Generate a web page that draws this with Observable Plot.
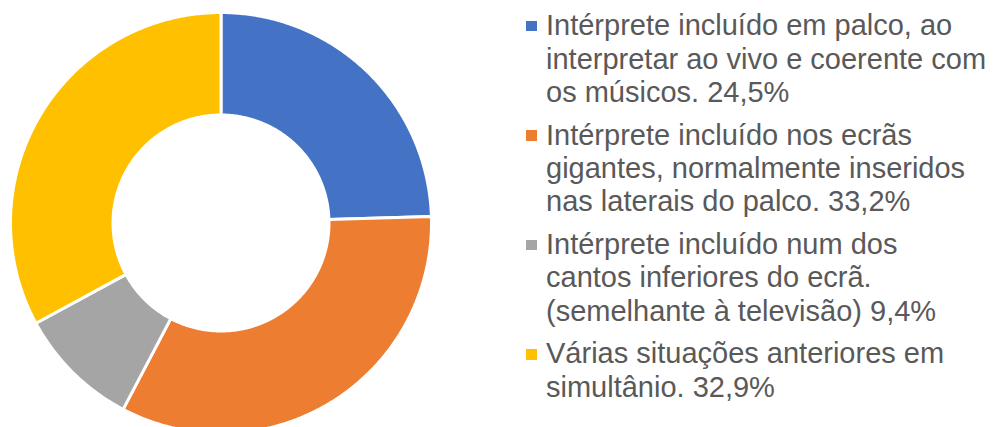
<!DOCTYPE html>
<html>
<head>
<meta charset="utf-8">
<script src="https://cdn.jsdelivr.net/npm/d3@7"></script>
<script src="https://cdn.jsdelivr.net/npm/@observablehq/plot@0.6"></script>
<style>
  html, body { margin: 0; padding: 0; background: #fff; }
  #wrap { position: relative; width: 993px; height: 427px; overflow: hidden; font-family: "Liberation Sans", Arial, sans-serif; }
  #wrap svg { position: absolute; left: 0; top: 0; }
  #legend { position: absolute; left: 546px; top: 9.3px; color: #595959; font-size: 29px; line-height: 33.3px; white-space: nowrap; }
  .item { position: relative; margin-bottom: 9.5px; }
  .mk { position: absolute; left: -20px; top: 11.7px; width: 10.5px; height: 10.5px; }
</style>
</head>
<body>
<div id="wrap"></div>
<script>
// ---- data ----
const categories = [
  "Intérprete incluído em palco, ao interpretar ao vivo e coerente com os músicos.",
  "Intérprete incluído nos ecrãs gigantes, normalmente inseridos nas laterais do palco.",
  "Intérprete incluído num dos cantos inferiores do ecrã. (semelhante à televisão)",
  "Várias situações anteriores em simultânio."
];
const values = [24.5, 33.2, 9.4, 32.9];
const colors = ["#4472C4", "#ED7D31", "#A5A5A5", "#FFC000"];
const labelLines = [
  ["Intérprete incluído em palco, ao", "interpretar ao vivo e coerente com", "os músicos."],
  ["Intérprete incluído nos ecrãs", "gigantes, normalmente inseridos", "nas laterais do palco."],
  ["Intérprete incluído num dos", "cantos inferiores do ecrã.", "(semelhante à televisão)"],
  ["Várias situações anteriores em", "simultânio."]
];

// ---- donut geometry via d3.pie (angles clockwise from 12 o'clock) ----
const innerRatio = 0.513;
const pie = d3.pie().sort(null).value(d => d.value);
const arcs = pie(categories.map((c, i) => ({cat: c, value: values[i]})));
const pts = [];
for (const a of arcs) {
  const n = Math.max(8, Math.ceil((a.endAngle - a.startAngle) / (Math.PI / 360)));
  for (let k = 0; k <= n; k++) {
    const t = a.startAngle + (a.endAngle - a.startAngle) * k / n;
    pts.push({cat: a.data.cat, x: Math.sin(t), y: Math.cos(t)});
  }
  for (let k = n; k >= 0; k--) {
    const t = a.startAngle + (a.endAngle - a.startAngle) * k / n;
    pts.push({cat: a.data.cat, x: innerRatio * Math.sin(t), y: innerRatio * Math.cos(t)});
  }
}

const chart = Plot.plot({
  width: 993,
  height: 427,
  x: {domain: [-1, 1], range: [10, 431], axis: null},
  y: {domain: [-1, 1], range: [433, 12], axis: null},
  color: {type: "ordinal", domain: categories, range: colors, legend: false},
  marks: [
    Plot.line(pts, {x: "x", y: "y", z: "cat", fill: "cat", stroke: "white", strokeWidth: 3, curve: "linear-closed"})
  ]
});
const wrap = document.getElementById("wrap");
wrap.appendChild(chart);

// ---- legend ----
const fmt = v => v.toFixed(1).replace(".", ",") + "%";
const legend = document.createElement("div");
legend.id = "legend";
categories.forEach((c, i) => {
  const item = document.createElement("div");
  item.className = "item";
  const mk = document.createElement("div");
  mk.className = "mk";
  mk.style.background = colors[i];
  item.appendChild(mk);
  const lines = labelLines[i].slice();
  lines[lines.length - 1] += " " + fmt(values[i]);
  lines.forEach(l => {
    const d = document.createElement("div");
    d.textContent = l;
    item.appendChild(d);
  });
  legend.appendChild(item);
});
wrap.appendChild(legend);
</script>
</body>
</html>
